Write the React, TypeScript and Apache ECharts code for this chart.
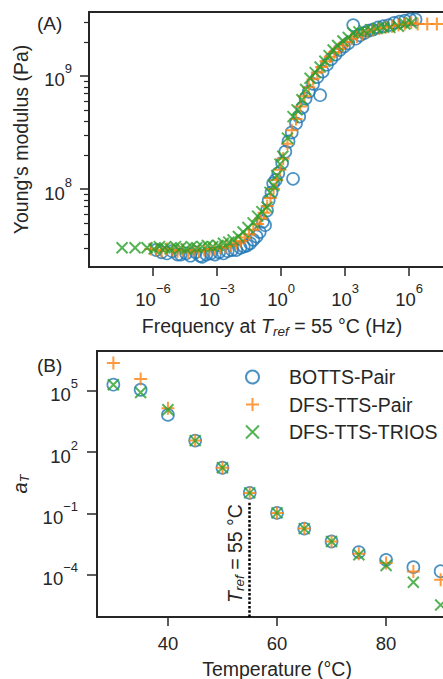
import React, { useEffect, useRef } from 'react';
import * as echarts from 'echarts';

// ---------- Panel (A): master curves, values are log10 (frequency Hz) / log10 (modulus Pa)
const bottsLogFreq = [-5.85, -5.6, -5.35, -5.1, -4.85, -4.7, -4.45, -4.25, -4.0, -3.8, -3.7, -3.5, -3.3, -3.1, -2.9, -2.7, -2.5, -2.3, -2.1, -1.9, -1.75, -1.6, -1.45, -1.3, -1.15, -1.0, -0.85, -0.75, -0.66, -0.58, -0.45, -0.37, -0.25, -0.13, 0.05, 0.2, 0.35, 0.56, 0.5, 0.7, 0.85, 1.0, 1.15, 1.3, 1.5, 1.7, 1.83, 1.95, 2.15, 2.35, 2.55, 2.75, 2.95, 3.15, 3.38, 3.5, 3.7, 3.9, 4.1, 4.3, 4.55, 4.8, 5.05, 5.3, 5.55, 5.8, 6.05, 6.3];
const bottsLogModulus = [7.46, 7.44, 7.43, 7.45, 7.42, 7.42, 7.43, 7.41, 7.44, 7.41, 7.40, 7.42, 7.43, 7.42, 7.44, 7.43, 7.45, 7.46, 7.46, 7.48, 7.49, 7.50, 7.52, 7.55, 7.58, 7.62, 7.71, 7.68, 7.81, 7.90, 7.97, 8.05, 8.08, 8.14, 8.23, 8.33, 8.42, 8.09, 8.50, 8.58, 8.64, 8.72, 8.80, 8.86, 8.93, 8.99, 8.83, 9.04, 9.10, 9.15, 9.19, 9.23, 9.26, 9.29, 9.45, 9.33, 9.36, 9.38, 9.40, 9.41, 9.43, 9.44, 9.45, 9.47, 9.48, 9.49, 9.50, 9.50];

const pairLogFreq = [-6.1, -5.85, -5.6, -5.35, -5.1, -4.85, -4.6, -4.35, -4.1, -3.85, -3.6, -3.35, -3.1, -2.85, -2.6, -2.35, -2.1, -1.9, -1.7, -1.5, -1.3, -1.1, -0.95, -0.8, -0.65, -0.5, -0.35, -0.2, -0.05, 0.1, 0.3, 0.5, 0.7, 0.9, 1.1, 1.3, 1.5, 1.7, 1.9, 2.1, 2.3, 2.5, 2.7, 2.9, 3.1, 3.3, 3.55, 3.8, 4.05, 4.3, 4.6, 4.9, 5.2, 5.5, 5.8, 6.1, 6.4, 6.85, 7.3];
const pairLogModulus = [7.47, 7.46, 7.45, 7.47, 7.46, 7.45, 7.46, 7.44, 7.46, 7.45, 7.46, 7.47, 7.47, 7.48, 7.49, 7.50, 7.52, 7.54, 7.57, 7.60, 7.64, 7.69, 7.74, 7.79, 7.85, 7.92, 8.00, 8.08, 8.17, 8.27, 8.40, 8.52, 8.62, 8.73, 8.82, 8.90, 8.97, 9.03, 9.08, 9.13, 9.17, 9.21, 9.24, 9.27, 9.30, 9.33, 9.35, 9.37, 9.39, 9.41, 9.42, 9.43, 9.44, 9.45, 9.46, 9.47, 9.46, 9.46, 9.46];

const triosLogFreq = [-7.45, -6.84, -6.28, -5.95, -5.7, -5.45, -5.2, -4.95, -4.7, -4.45, -4.2, -3.95, -3.7, -3.45, -3.2, -2.95, -2.7, -2.45, -2.25, -2.0, -1.78, -1.55, -1.31, -1.1, -0.9, -0.66, -0.52, -0.35, -0.2, -0.05, 0.08, 0.3, 0.56, 0.75, 0.98, 1.15, 1.36, 1.6, 1.83, 2.05, 2.25, 2.44, 2.65, 2.9, 3.15, 3.38, 3.65, 3.9, 4.2, 4.5, 4.8, 5.1, 5.5, 5.8, 6.1];
const triosLogModulus = [7.48, 7.48, 7.48, 7.47, 7.49, 7.48, 7.47, 7.49, 7.48, 7.47, 7.49, 7.48, 7.49, 7.50, 7.49, 7.50, 7.52, 7.53, 7.55, 7.58, 7.62, 7.66, 7.70, 7.76, 7.80, 7.84, 7.97, 8.03, 8.12, 8.22, 8.29, 8.45, 8.64, 8.70, 8.79, 8.88, 8.98, 9.03, 9.08, 9.13, 9.18, 9.23, 9.27, 9.31, 9.34, 9.38, 9.39, 9.40, 9.41, 9.42, 9.43, 9.43, 9.44, 9.46, 9.47];

const freqTickExponents = [-6, -3, 0, 3, 6];
const modulusTickExponents = [8, 9];
const minorMultipliers = [2, 3, 4, 5, 6, 7, 8, 9];
const minorDecades = [7, 8, 9];

// ---------- Panel (B): shift factors, values are log10(a_T)
const temperatures = [30, 35, 40, 45, 50, 55, 60, 65, 70, 75, 80, 85, 90];
const bottsLogShift = [5.30, 5.05, 3.82, 2.56, 1.23, 0.0, -0.98, -1.75, -2.38, -2.90, -3.28, -3.64, -3.84];
const pairLogShift = [6.36, 5.58, 4.15, 2.56, 1.23, 0.0, -0.98, -1.75, -2.38, -2.98, -3.44, -3.85, -4.25];
const triosLogShift = [5.30, 4.92, 4.07, 2.56, 1.23, 0.0, -0.98, -1.75, -2.38, -3.03, -3.56, -4.38, -5.49];
const temperatureTicks = [40, 60, 80];
const shiftTickExponents = [-4, -1, 2, 5];
const tRef = 55;
const tRefLineTopLog = -0.4;

const seriesNames = ['BOTTS-Pair', 'DFS-TTS-Pair', 'DFS-TTS-TRIOS'];

const BLUE = '#1f77b4';
const ORANGE = '#ff7f0e';
const GREEN = '#2ca02c';
const INK = '#262626';
const FONT = "'Liberation Sans', Arial, Helvetica, sans-serif";
const TITLE_SIZE = 19.5;

const plusPath = 'path://M0,-1L0,1M-1,0L1,0';
const crossPath = 'path://M-1,-1L1,1M-1,1L1,-1';

const zip = (a: number[], b: number[]) => a.map((v, i) => [v, b[i]]);

const expLabel = (v: number) => {
  const e = Math.round(v);
  return `{b|10}{s|${e < 0 ? '\u2212' + -e : e}}`;
};

const expRich = {
  b: { fontSize: 18.5, lineHeight: 27, verticalAlign: 'bottom', fontFamily: FONT, color: INK },
  s: { fontSize: 13, verticalAlign: 'top', fontFamily: FONT, color: INK },
};

const tickLine = { color: INK, width: 1.5 };

const markerStyles = [
  { symbol: 'circle', symbolSize: 12, itemStyle: { color: 'rgba(0,0,0,0)', borderColor: BLUE, borderWidth: 1.7 } },
  { symbol: plusPath, symbolSize: 13, itemStyle: { color: 'rgba(0,0,0,0)', borderColor: ORANGE, borderWidth: 2 } },
  { symbol: crossPath, symbolSize: 11, itemStyle: { color: 'rgba(0,0,0,0)', borderColor: GREEN, borderWidth: 2 } },
];

const noLine = { show: false, onZero: false };

const subRich = (mainSize: number, subSize: number) => ({
  i: { fontSize: mainSize, fontStyle: 'italic', fontFamily: FONT, color: INK },
  sub: { fontSize: subSize, fontStyle: 'italic', verticalAlign: 'bottom', fontFamily: FONT, color: INK },
});

export default function App() {
  const ref = useRef<HTMLDivElement>(null);

  useEffect(() => {
    if (!ref.current) return;
    const chart = echarts.init(ref.current, null, { renderer: 'svg' });

    const minorModulus: number[] = [];
    minorDecades.forEach((d) => minorMultipliers.forEach((m) => minorModulus.push(d + Math.log10(m))));

    const panelA = [
      zip(bottsLogFreq, bottsLogModulus),
      zip(pairLogFreq, pairLogModulus),
      zip(triosLogFreq, triosLogModulus),
    ];
    const panelB = [
      zip(temperatures, bottsLogShift),
      zip(temperatures, pairLogShift),
      zip(temperatures, triosLogShift),
    ];

    const yMinB = -6.08;

    const gridCommon = {
      show: true, borderColor: INK, borderWidth: 2, backgroundColor: 'transparent',
      outerBoundsMode: 'none', containLabel: false,
    };

    const option: any = {
      animation: false,
      textStyle: { fontFamily: FONT, color: INK },
      grid: [
        { left: 89, top: 12, width: 366, height: 255, ...gridCommon },
        { left: 97, top: 351, width: 360, height: 266, ...gridCommon },
      ],
      xAxis: [
        {
          type: 'value', gridIndex: 0, min: -9, max: 8.15,
          axisLine: noLine, splitLine: { show: false },
          axisTick: { show: true, length: 9, customValues: freqTickExponents, lineStyle: tickLine },
          axisLabel: { customValues: freqTickExponents, formatter: expLabel, margin: 15, rich: expRich },
          name: 'Frequency at {i|T}{sub|ref} = 55 °C (Hz)',
          nameLocation: 'middle', nameGap: 47,
          nameTextStyle: {
            fontSize: TITLE_SIZE, lineHeight: 24, color: INK, fontFamily: FONT,
            rich: subRich(TITLE_SIZE, 13.5),
          },
        },
        {
          type: 'value', gridIndex: 1, min: 27, max: 93,
          axisLine: noLine, splitLine: { show: false },
          axisTick: { show: true, length: 9, customValues: temperatureTicks, lineStyle: tickLine },
          axisLabel: { customValues: temperatureTicks, fontSize: 18.5, color: INK, fontFamily: FONT, margin: 17 },
          name: 'Temperature (°C)', nameLocation: 'middle', nameGap: 40,
          nameTextStyle: { fontSize: TITLE_SIZE, lineHeight: 24, color: INK, fontFamily: FONT },
        },
      ],
      yAxis: [
        {
          type: 'value', gridIndex: 0, min: 7.31, max: 9.566, position: 'left',
          axisLine: noLine, splitLine: { show: false },
          axisTick: { show: true, length: 9, customValues: modulusTickExponents, lineStyle: tickLine },
          axisLabel: { customValues: modulusTickExponents, formatter: expLabel, margin: 17, rich: expRich },
          name: "Young's modulus (Pa)", nameLocation: 'middle', nameGap: 55, nameRotate: 90,
          nameTextStyle: { fontSize: TITLE_SIZE, lineHeight: 24, color: INK, fontFamily: FONT },
        },
        {
          type: 'value', gridIndex: 0, min: 7.31, max: 9.566, position: 'left',
          axisLine: noLine, splitLine: { show: false }, axisLabel: { show: false },
          axisTick: { show: true, length: 5, customValues: minorModulus, lineStyle: { color: INK, width: 1.2 } },
        },
        {
          type: 'value', gridIndex: 1, min: yMinB, max: 6.95, position: 'left',
          axisLine: noLine, splitLine: { show: false },
          axisTick: { show: true, length: 10, customValues: shiftTickExponents, lineStyle: tickLine },
          axisLabel: { customValues: shiftTickExponents, formatter: expLabel, margin: 19, rich: expRich },
          name: '{i|a}{sub|T}', nameLocation: 'middle', nameGap: 62, nameRotate: 90,
          nameTextStyle: {
            fontSize: TITLE_SIZE, lineHeight: 24, color: INK, fontFamily: FONT,
            rich: subRich(20, 12.5),
          },
        },
      ],
      legend: {
        data: seriesNames,
        orient: 'vertical',
        left: 245, top: 367, padding: 0,
        itemWidth: 13, itemHeight: 13, itemGap: 7.5,
        selectedMode: false,
        textStyle: { fontSize: 19.5, lineHeight: 20, color: INK, fontFamily: FONT, padding: [0, 0, 0, 25] },
      },
      graphic: [
        { type: 'text', left: 37, top: 14, style: { text: '(A)', fontSize: 19, fill: INK, fontFamily: FONT } },
        { type: 'text', left: 37, top: 356, style: { text: '(B)', fontSize: 19, fill: INK, fontFamily: FONT } },
      ],
      series: [
        ...seriesNames.map((name, i) => ({
          name, type: 'scatter', xAxisIndex: 0, yAxisIndex: 0, data: panelA[i], z: 2 + i,
          ...markerStyles[i], emphasis: { disabled: true },
        })),
        ...seriesNames.map((name, i) => ({
          name, type: 'scatter', xAxisIndex: 1, yAxisIndex: 2, data: panelB[i], z: 2 + i,
          ...markerStyles[i], emphasis: { disabled: true },
        })),
        {
          name: 'Tref', type: 'scatter', xAxisIndex: 1, yAxisIndex: 2, data: [],
          markLine: {
            silent: true, symbol: ['none', 'none'], animation: false,
            lineStyle: { color: '#000', width: 2.5, type: [2.5, 1.8] },
            emphasis: { disabled: true },
            label: {
              show: true, position: 'insideEndTop', distance: 3,
              formatter: '{i|T}{sub|ref} = 55 °C',
              fontSize: TITLE_SIZE, lineHeight: 24, color: INK, fontFamily: FONT,
              rich: subRich(TITLE_SIZE, 13.5),
            },
            data: [[{ coord: [tRef, yMinB] }, { coord: [tRef, tRefLineTopLog] }]],
          },
        },
      ],
    };

    chart.setOption(option);
    return () => chart.dispose();
  }, []);

  return (
    <div style={{ position: 'absolute', left: 0, top: 0, width: 443, height: 679, overflow: 'hidden', background: '#fff' }}>
      <div ref={ref} style={{ width: 520, height: 679 }} />
    </div>
  );
}
